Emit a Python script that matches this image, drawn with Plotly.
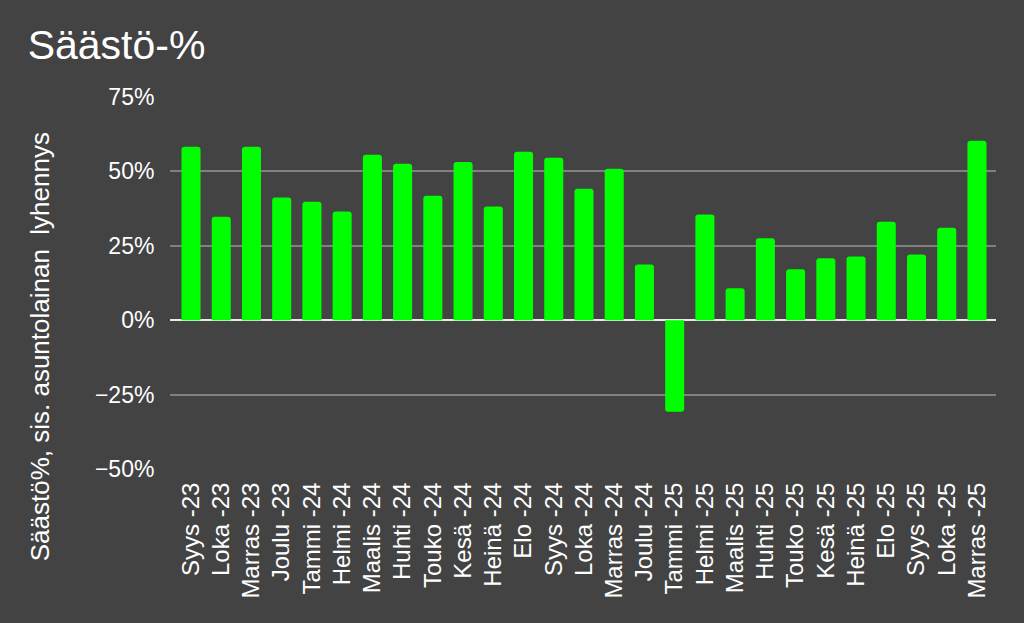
import plotly.graph_objects as go

categories = ["Syys -23", "Loka -23", "Marras -23", "Joulu -23", "Tammi -24", "Helmi -24",
              "Maalis -24", "Huhti -24", "Touko -24", "Kesä -24", "Heinä -24", "Elo -24",
              "Syys -24", "Loka -24", "Marras -24", "Joulu -24", "Tammi -25", "Helmi -25",
              "Maalis -25", "Huhti -25", "Touko -25", "Kesä -25", "Heinä -25", "Elo -25",
              "Syys -25", "Loka -25", "Marras -25"]
values = [58.3, 34.8, 58.3, 41.2, 39.8, 36.5, 55.6, 52.6, 41.8, 53.2, 38.2, 56.6,
          54.6, 44.2, 50.9, 18.7, -30.8, 35.5, 10.7, 27.5, 17.1, 20.8, 21.4, 33.1,
          22.1, 31.1, 60.3]
tick_vals = [-50, -25, 0, 25, 50, 75]
tick_text = ["\u221250%", "\u221225%", "0%", "25%", "50%", "75%"]

bg = "#434343"
font_family = "Liberation Sans, Arial, sans-serif"

fig = go.Figure(go.Bar(x=categories, y=values, marker=dict(color="#00ff00", line=dict(width=0))))

fig.update_layout(
    width=1024, height=623,
    paper_bgcolor=bg, plot_bgcolor=bg,
    margin=dict(l=170, r=28, t=97, b=154),
    bargap=0.37,
    barcornerradius=3,
    showlegend=False,
    font=dict(family=font_family, color="#ffffff"),
    title=dict(text="Säästö-%", x=0.027, xanchor="left", y=0.928, yanchor="middle",
               font=dict(size=41, color="#ffffff", family=font_family)),
)
fig.add_annotation(
    text="Säästö%, sis. asuntolainan  lyhennys", textangle=-90,
    xref="paper", yref="paper", x=-0.157, y=0.328, xanchor="center", yanchor="middle",
    showarrow=False, font=dict(size=26, color="#ffffff", family=font_family),
)
fig.update_xaxes(
    range=[-0.695, 26.63],
    tickangle=-90, tickfont=dict(size=24, color="#ffffff"),
    showgrid=False, showline=False, ticks="outside", ticklen=3, tickcolor=bg,
)
fig.update_yaxes(
    range=[-50, 75], tickvals=tick_vals, ticktext=tick_text,
    tickfont=dict(size=23, color="#ffffff"),
    showgrid=True, gridcolor="#808080", gridwidth=1.5,
    zeroline=True, zerolinecolor="#e8e8e8", zerolinewidth=2,
    ticks="outside", ticklen=10, tickcolor=bg,
)

fig.write_html("out.html", config={"displayModeBar": False},
               post_script="document.body.style.margin='0';document.body.style.background='#434343';")
